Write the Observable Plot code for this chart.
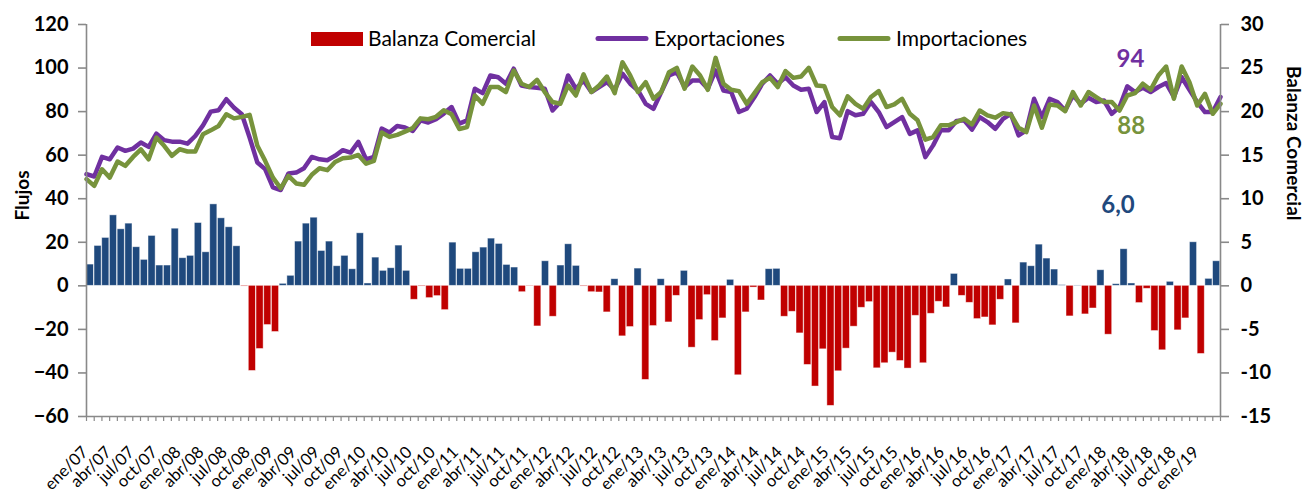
<!DOCTYPE html>
<html><head><meta charset="utf-8">
<script src="https://cdn.jsdelivr.net/npm/d3@7"></script>
<script src="https://cdn.jsdelivr.net/npm/@observablehq/plot@0.6"></script>
<style>
body{margin:0;background:#fff;font-family:Lato,sans-serif;}
#wrap{position:relative;width:1306px;height:496px;}
g[aria-label="y-axis tick label"] text{font-weight:bold;}
</style></head><body><div id="wrap"></div>
<script>
const tickLabels = ["ene/07","abr/07","jul/07","oct/07","ene/08","abr/08","jul/08","oct/08","ene/09","abr/09","jul/09","oct/09",
"ene/10","abr/10","jul/10","oct/10","ene/11","abr/11","jul/11","oct/11","ene/12","abr/12","jul/12","oct/12",
"ene/13","abr/13","jul/13","oct/13","ene/14","abr/14","jul/14","oct/14","ene/15","abr/15","jul/15","oct/15",
"ene/16","abr/16","jul/16","oct/16","ene/17","abr/17","jul/17","oct/17","ene/18","abr/18","jul/18","oct/18","ene/19"];

const exportaciones = [
51.3,50.2,59.2,58.1,63.5,62.0,63.0,65.8,63.8,69.9,
66.9,66.2,66.2,65.3,68.8,73.7,80.0,80.6,85.7,81.8,
78.8,68.1,56.6,53.6,45.2,44.0,51.6,52.0,54.0,59.2,
58.1,57.7,59.7,62.3,61.2,66.1,58.1,59.2,72.2,70.4,
73.4,72.7,71.1,76.0,75.0,76.5,79.1,82.1,74.5,76.0,
90.5,88.5,96.6,95.8,92.8,99.7,92.0,91.3,91.0,90.5,
80.5,84.4,96.6,90.5,94.3,89.0,91.3,93.6,90.0,97.4,
92.8,89.7,83.6,81.3,89.0,96.6,98.1,91.3,94.3,94.3,
90.5,98.9,89.7,89.0,79.8,81.3,86.7,92.8,96.6,92.8,
95.8,92.0,90.0,90.5,79.8,84.4,68.3,67.8,80.2,78.3,
79.0,84.4,79.8,72.9,75.2,77.5,69.8,71.4,59.1,64.5,
71.4,71.4,75.7,76.0,71.7,77.5,75.2,72.1,76.7,79.0,
69.1,71.4,85.9,77.5,85.9,84.4,80.5,87.4,83.6,86.4,
84.4,85.1,79.0,82.1,91.6,89.0,90.9,89.0,91.3,93.1,
86.7,95.8,90.0,84.4,79.8,79.8,86.7];

const importaciones = [
49.0,45.9,53.5,49.7,57.1,55.1,59.2,62.7,58.1,68.1,
64.3,59.7,62.7,61.7,61.7,69.6,71.4,73.4,78.8,76.9,
77.6,78.5,64.3,57.4,49.7,44.8,50.5,47.0,46.4,51.0,
54.0,53.1,56.9,58.6,58.9,60.1,56.1,57.4,70.4,68.4,
69.3,70.8,72.4,76.9,76.5,77.6,80.6,78.8,72.0,72.9,
87.4,83.6,91.3,91.3,89.0,98.9,92.8,91.3,94.6,89.0,
84.4,83.6,92.0,87.4,97.1,89.0,92.0,96.1,88.5,102.7,
96.6,89.0,93.5,85.9,89.0,98.1,100.1,90.5,100.7,96.6,
90.0,104.7,92.8,90.0,89.4,83.6,88.5,93.5,95.5,91.3,
98.6,95.5,96.1,100.1,92.0,91.6,82.1,78.3,87.0,83.6,
81.3,86.7,89.4,82.1,83.3,85.9,79.0,76.0,67.1,68.3,
73.7,73.7,75.2,76.7,74.1,80.5,78.3,77.2,79.3,78.7,
72.6,70.6,82.8,72.6,83.3,82.8,80.2,89.0,82.8,89.0,
86.7,84.4,84.4,80.5,87.4,88.5,92.8,90.0,96.6,100.7,
85.9,100.7,93.5,82.8,88.2,79.0,83.6];

const balanza = [
2.44,4.58,5.5,8.09,6.49,7.14,4.43,2.98,5.73,2.33,
2.33,6.56,3.17,3.44,7.21,3.85,9.35,7.75,6.72,4.54,
-0.08,-9.77,-7.25,-4.5,-5.3,0.23,1.15,5.08,7.14,7.82,
4.0,5.08,2.25,3.44,1.9,6.03,0.27,3.24,1.72,2.02,
4.62,1.72,-1.6,-0.08,-1.41,-1.18,-2.79,4.96,1.95,1.95,
3.85,4.39,5.42,4.81,2.4,2.1,-0.73,-0.05,-4.66,2.82,
-3.55,2.33,4.77,2.29,-0.08,-0.73,-0.76,-3.05,0.76,-5.8,
-4.73,1.98,-10.8,-4.62,0.76,-4.2,-1.15,1.72,-7.1,-3.93,
-1.07,-6.34,-3.74,0.69,-10.27,-3.05,-0.2,-1.68,1.91,1.95,
-3.55,-2.98,-5.46,-9.08,-11.56,-7.29,-13.78,-9.81,-7.21,-4.69,
-2.52,-1.87,-9.47,-8.89,-7.67,-8.63,-9.5,-3.44,-8.89,-3.21,
-1.83,-2.48,1.37,-1.15,-1.95,-3.82,-3.63,-4.54,-1.6,0.73,
-4.31,2.67,2.25,4.73,3.13,1.87,0.08,-3.51,0.04,-3.28,
-2.6,1.79,-5.61,0.19,4.2,0.27,-1.98,-0.34,-5.19,-7.4,
0.46,-5.11,-3.74,5.0,-7.82,0.8,2.82];

const leftTicks = [-60,-40,-20,0,20,40,60,80,100,120];
const annoText = ["94","88","6,0"];
const annoMonth = [134.4,134.5,132.8];
const annoValue = [103.9,73.2,36.9];
const annoColor = ["#7030A0","#77933C","#1F497D"];

const BLUE = "#1F497D", RED = "#C00000", PURPLE = "#7030A0", GREEN = "#77933C", GRAY = "#898989";
const N = balanza.length;          // 147 months
const span = N - 1;                // line axis domain
const bx = k => k * span / N;      // category boundary -> line scale

const bars = balanza.map((v, i) => ({i, v}));
const exp = exportaciones.map((v, i) => ({i, v}));
const imp = importaciones.map((v, i) => ({i, v}));
const annos = annoText.map((t, k) => ({t, x: annoMonth[k], y: annoValue[k], c: annoColor[k]}));

const chart = Plot.plot({
  width: 1306, height: 496,
  marginTop: 24, marginBottom: 80, marginLeft: 86, marginRight: 86,
  style: {fontFamily: "Lato, sans-serif", background: "white", overflow: "visible", color: "black"},
  x: {type: "linear", domain: [0, span], axis: null},
  y: {domain: [-60, 120], axis: null},
  marks: [
    Plot.rect(bars, {x1: d => bx(d.i), x2: d => bx(d.i + 1), y1: 0, y2: d => d.v * 4,
      fill: d => d.v >= 0 ? BLUE : RED, stroke: "white", strokeOpacity: 0.55, strokeWidth: 0.8,
      insetLeft: 0.3, insetRight: 0.3}),
    Plot.line(exp, {x: "i", y: "v", stroke: PURPLE, strokeWidth: 4.5, strokeLinejoin: "round", strokeLinecap: "round"}),
    Plot.line(imp, {x: "i", y: "v", stroke: GREEN, strokeWidth: 4.5, strokeLinejoin: "round", strokeLinecap: "round"}),
    Plot.ruleX([0, span], {stroke: GRAY, strokeWidth: 1.6}),
    Plot.ruleY([-60], {stroke: GRAY, strokeWidth: 1.6}),
    Plot.axisY({anchor: "left", ticks: leftTicks, tickSize: 8, tickPadding: 10, stroke: GRAY, strokeWidth: 1.6,
      fill: "black", fontSize: 20, fontWeight: "bold", label: null}),
    Plot.axisY({anchor: "right", ticks: leftTicks, tickFormat: d => d / 4, tickSize: 8, tickPadding: 12, stroke: GRAY, strokeWidth: 1.6,
      fill: "black", fontSize: 20, fontWeight: "bold", label: null}),
    Plot.axisX({anchor: "bottom", ticks: d3.range(N + 1).map(bx), tickSize: 5, tickFormat: () => "",
      stroke: GRAY, strokeWidth: 1.2, label: null}),
    Plot.text(tickLabels, {x: (d, k) => bx(3 * k + 0.5), frameAnchor: "bottom", text: d => d,
      rotate: -45, textAnchor: "end", lineAnchor: "middle", dy: 33, dx: -5, fontSize: 16.5, fill: "black"}),
    Plot.text(["Flujos"], {frameAnchor: "left", text: d => d, dx: -64, rotate: -90, fontSize: 19, fontWeight: "bold", fill: "black"}),
    Plot.text(["Balanza Comercial"], {frameAnchor: "right", text: d => d, dx: 73, rotate: 90, fontSize: 19, fontWeight: "bold", fill: "black"}),
    Plot.text(annos, {x: "x", y: "y", text: "t", fill: d => d.c, fontSize: 24, fontWeight: "bold"})
  ]
});

// legend inside the plot area
const svg = d3.select(chart);
const lg = svg.append("g").attr("font-family", "Lato, sans-serif").attr("font-size", 21)
  .attr("fill", "black").attr("text-anchor", "start");
lg.append("rect").attr("x", 311).attr("y", 32).attr("width", 52).attr("height", 14).attr("fill", RED);
lg.append("text").attr("x", 368).attr("y", 45.5).text("Balanza Comercial");
lg.append("line").attr("x1", 598).attr("x2", 646).attr("y1", 38.5).attr("y2", 38.5)
  .attr("stroke", PURPLE).attr("stroke-width", 5).attr("stroke-linecap", "round");
lg.append("text").attr("x", 654).attr("y", 45.5).text("Exportaciones");
lg.append("line").attr("x1", 840).attr("x2", 888).attr("y1", 38.5).attr("y2", 38.5)
  .attr("stroke", GREEN).attr("stroke-width", 5).attr("stroke-linecap", "round");
lg.append("text").attr("x", 896).attr("y", 45.5).text("Importaciones");

document.getElementById("wrap").appendChild(chart);
</script></body></html>
